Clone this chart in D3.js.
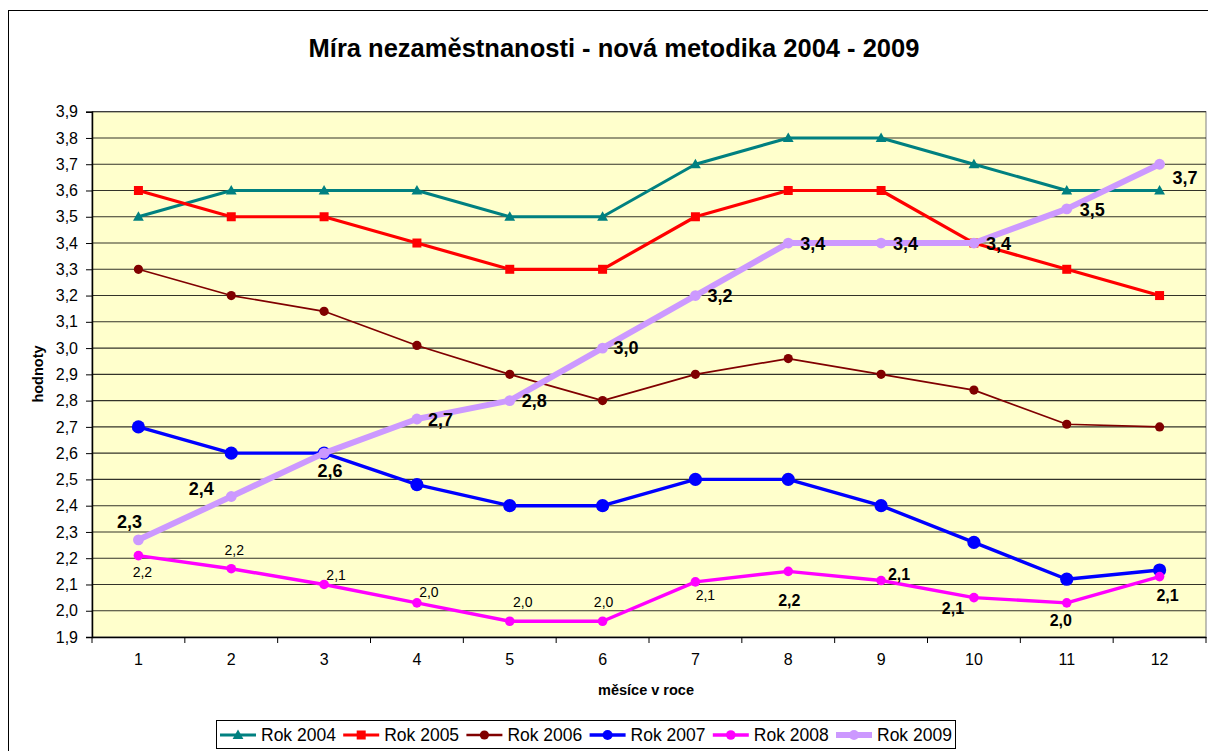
<!DOCTYPE html>
<html><head><meta charset="utf-8">
<script src="https://cdn.jsdelivr.net/npm/d3@7"></script>
<style>
html,body{margin:0;padding:0;background:#fff;}
svg{display:block;font-family:"Liberation Sans",Arial,sans-serif;}
</style></head>
<body><svg id="chart" width="1208" height="751"></svg>
<script>
// ---- data ----
const categories = ["1","2","3","4","5","6","7","8","9","10","11","12"];
const seriesNames = ["Rok 2004","Rok 2005","Rok 2006","Rok 2007","Rok 2008","Rok 2009"];
const rok2004 = [3.5,3.6,3.6,3.6,3.5,3.5,3.7,3.8,3.8,3.7,3.6,3.6];
const rok2005 = [3.6,3.5,3.5,3.4,3.3,3.3,3.5,3.6,3.6,3.4,3.3,3.2];
const rok2006 = [3.3,3.2,3.14,3.01,2.9,2.8,2.9,2.96,2.9,2.84,2.71,2.7];
const rok2007 = [2.7,2.6,2.6,2.48,2.4,2.4,2.5,2.5,2.4,2.26,2.12,2.155];
const rok2008 = [2.21,2.16,2.1,2.03,1.96,1.96,2.11,2.15,2.115,2.05,2.03,2.13];
const rok2009 = [2.27,2.435,2.6,2.73,2.8,3.0,3.2,3.4,3.4,3.4,3.53,3.7];
const labels2008 = ["2,2","2,2","2,1","2,0","2,0","2,0","2,1","2,2","2,1","2,1","2,0","2,1"];
const labels2009 = ["2,3","2,4","2,6","2,7","2,8","3,0","3,2","3,4","3,4","3,4","3,5","3,7"];
const yTicks = [1.9,2.0,2.1,2.2,2.3,2.4,2.5,2.6,2.7,2.8,2.9,3.0,3.1,3.2,3.3,3.4,3.5,3.6,3.7,3.8,3.9];
const titleText = "Míra nezaměstnanosti - nová metodika 2004 - 2009";
const xTitle = "měsíce v roce";
const yTitle = "hodnoty";

// ---- styles ----
const styles = [
  {color:"#008080", width:3,   marker:"triangle", size:9},
  {color:"#FF0000", width:3.2, marker:"square",   size:9},
  {color:"#800000", width:1.7, marker:"circle",   size:4.6},
  {color:"#0000FF", width:3.4, marker:"circle",   size:6.6},
  {color:"#FF00FF", width:3.4, marker:"circle",   size:4.8},
  {color:"#CC99FF", width:6,   marker:"circle",   size:5.4}
];
// label placement (style): [anchor, dx, dy-baseline]
const place2009 = [["middle",-9,-12],["middle",-30,-1],["middle",6,24],["start",11,7],["start",12,6],["start",11,6],
                   ["start",12,6],["start",12,7],["start",12,7],["start",12,7],["start",13,7],["start",13,20]];
const place2008 = [["middle",4,21],["middle",3,-14],["middle",12,-4],["middle",12,-6],["middle",13,-14],["middle",1,-14],
                   ["middle",10,18],["middle",1,35],["middle",18,-1],["middle",-21,16],["middle",-6,23],["middle",8,24]];
const bold2008 = [false,false,false,false,false,false,false,true,true,true,true,true];

const svg = d3.select("#chart");
const L=92, R=1206, T=111.7, B=637;

// outer frame
svg.append("rect").attr("x",8.5).attr("y",10.5).attr("width",1220).attr("height",760)
  .attr("fill","#fff").attr("stroke","#000").attr("stroke-width",1);

const x = d3.scaleBand().domain(categories).range([L,R]).padding(0);
const cx = c => x(c) + x.bandwidth()/2;
const y = d3.scaleLinear().domain([1.9,3.9]).range([B,T]);
const fmt = v => d3.format(".1f")(v).replace(".",",");

// plot background
svg.append("rect").attr("x",L).attr("y",T).attr("width",R-L).attr("height",B-T)
  .attr("fill","#FFFFCC").attr("stroke","#808080").attr("stroke-width",1);

// gridlines
svg.append("g").selectAll("line").data(yTicks.slice(1)).join("line")
  .attr("x1",L).attr("x2",R).attr("y1",d=>y(d)).attr("y2",d=>y(d))
  .attr("stroke","#000").attr("stroke-opacity",0.8).attr("stroke-width",1.1);

// y axis
const yAxis = svg.append("g").attr("transform",`translate(${L},0)`)
  .call(d3.axisLeft(y).tickValues(yTicks).tickFormat(fmt).tickSize(6).tickPadding(8));
yAxis.select(".domain").attr("stroke","#000").attr("stroke-width",1.5);
yAxis.selectAll(".tick line").attr("stroke","#000");
yAxis.selectAll(".tick text").attr("font-size",16).attr("font-family","Liberation Sans, Arial").attr("fill","#000");

// x axis
const xAxis = svg.append("g").attr("transform",`translate(0,${B})`)
  .call(d3.axisBottom(x).tickSize(0).tickPadding(17));
xAxis.select(".domain").attr("stroke","#000").attr("stroke-width",1.5);
xAxis.selectAll(".tick text").attr("font-size",16).attr("font-family","Liberation Sans, Arial").attr("fill","#000");
svg.append("g").selectAll("line").data(categories.concat(["end"])).join("line")
  .attr("x1",d=>d==="end"?R:x(d)).attr("x2",d=>d==="end"?R:x(d))
  .attr("y1",B).attr("y2",B+6).attr("stroke","#000").attr("stroke-width",1);

// titles
svg.append("text").attr("x",614).attr("y",56.5).attr("text-anchor","middle")
  .attr("font-size",25.5).attr("font-weight","bold").text(titleText);
svg.append("text").attr("x",646).attr("y",695).attr("text-anchor","middle")
  .attr("font-size",14.5).attr("font-weight","bold").text(xTitle);
svg.append("text").attr("transform","translate(43,374) rotate(-90)").attr("text-anchor","middle")
  .attr("font-size",14.5).attr("font-weight","bold").text(yTitle);

// series
const allSeries = [rok2004,rok2005,rok2006,rok2007,rok2008,rok2009];
const line = d3.line().x((d,i)=>cx(categories[i])).y(d=>y(d));

function drawMarker(g, type, size, color, px, py){
  if(type==="circle"){
    g.append("circle").attr("cx",px).attr("cy",py).attr("r",size).attr("fill",color);
  } else if(type==="square"){
    g.append("rect").attr("x",px-size/2).attr("y",py-size/2).attr("width",size).attr("height",size).attr("fill",color);
  } else if(type==="triangle"){
    const s=size;
    g.append("path").attr("d",`M${px},${py-s*0.6}L${px+s*0.6},${py+s*0.45}L${px-s*0.6},${py+s*0.45}Z`).attr("fill",color);
  }
}

allSeries.forEach((vals,si)=>{
  const st = styles[si];
  const g = svg.append("g");
  g.append("path").datum(vals).attr("d",line).attr("fill","none")
    .attr("stroke",st.color).attr("stroke-width",st.width).attr("stroke-linejoin","round");
  vals.forEach((v,i)=>drawMarker(g, st.marker, st.size, st.color, cx(categories[i]), y(v)));
});

// data labels 2008
const lg8 = svg.append("g");
rok2008.forEach((v,i)=>{
  const p = place2008[i];
  lg8.append("text").attr("x",cx(categories[i])+p[1]).attr("y",y(v)+p[2])
    .attr("text-anchor",p[0]).attr("font-size",bold2008[i]?16:14)
    .attr("font-weight",bold2008[i]?"bold":"normal").attr("fill","#000").text(labels2008[i]);
});
// data labels 2009
const lg9 = svg.append("g");
rok2009.forEach((v,i)=>{
  const p = place2009[i];
  lg9.append("text").attr("x",cx(categories[i])+p[1]).attr("y",y(v)+p[2])
    .attr("text-anchor",p[0]).attr("font-size",18).attr("font-weight","bold")
    .attr("fill","#000").text(labels2009[i]);
});

// legend
const leg = svg.append("g");
leg.append("rect").attr("x",216.5).attr("y",720.5).attr("width",739).attr("height",28)
  .attr("fill","#fff").attr("stroke","#000").attr("stroke-width",1);
seriesNames.forEach((n,i)=>{
  const st = styles[i];
  const x0 = 220 + i*123.2, yc = 735;
  leg.append("line").attr("x1",x0).attr("x2",x0+36).attr("y1",yc).attr("y2",yc)
    .attr("stroke",st.color).attr("stroke-width",Math.max(st.width,2.5));
  drawMarker(leg, st.marker, st.marker==="circle"? Math.min(st.size,5):st.size, st.color, x0+18, yc);
  leg.append("text").attr("x",x0+41).attr("y",yc+6).attr("font-size",17.5)
    .attr("fill","#000").text(n);
});
</script></body></html>
